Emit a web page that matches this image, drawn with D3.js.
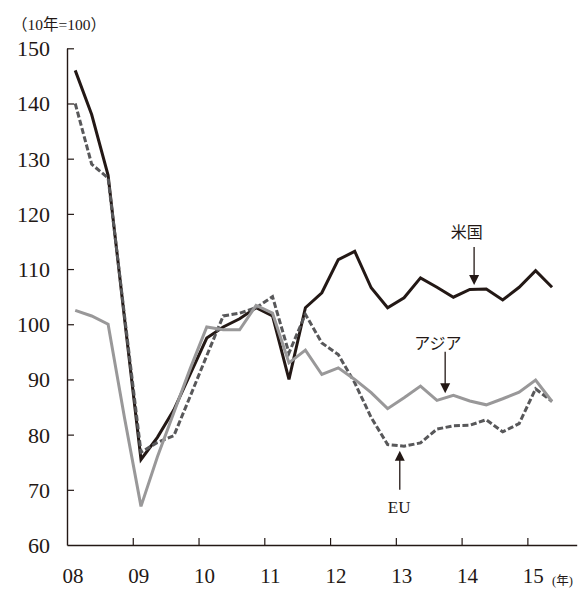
<!DOCTYPE html>
<html lang="ja">
<head>
    <meta charset="UTF-8">
    <title>Chart</title>
    <script src="https://d3js.org/d3.v7.min.js"></script>
    <style>
        body {
            margin: 0;
            background: #fff;
        }

        text {
            font-family: "Liberation Serif", "Noto Sans CJK JP", serif;
            fill: #231815;
        }

        .jp {
            font-family: "Noto Sans CJK JP", sans-serif;
        }
    </style>
</head>
<body>
<svg id="chart" width="584" height="589"></svg>

<script>
    // quarterly index, 2008Q1 .. 2015Q2 (2010 = 100)
    let quarters = d3.range(30).map(i => 2008 + 0.125 + i * 0.25);

    let usa = [146, 138, 127, 101, 75.5, 79.5, 84.5, 91, 97.5, 99.5,
        101, 103, 101.5, 90, 103, 105.7, 111.7, 113.2, 106.6, 103,
        104.8, 108.4, 106.7, 104.9, 106.3, 106.4, 104.4, 106.7, 109.7, 106.7];

    let asia = [102.5, 101.5, 100, 83, 67, 76, 84, 92, 99.5, 99,
        99, 103.4, 102, 93, 95.3, 90.9, 92.1, 90, 87.6, 84.7,
        86.7, 88.8, 86.2, 87.1, 86.1, 85.4, 86.5, 87.7, 89.9, 86];

    let eu = [140, 129, 126.5, 101.5, 76.8, 78.6, 79.8, 87, 94.3, 101.5,
        102, 103, 105, 94.8, 101.8, 96.6, 94.5, 89.4, 83.1, 78.2,
        77.9, 78.5, 81, 81.6, 81.7, 82.7, 80.5, 82, 88.3, 86];

    let yearTicks = [2008, 2009, 2010, 2011, 2012, 2013, 2014, 2015];
    let yearLabels = ["08", "09", "10", "11", "12", "13", "14", "15"];
    let valueTicks = [60, 70, 80, 90, 100, 110, 120, 130, 140, 150];

    // labels with arrows: [text, text x, text y, arrow x, arrow from, arrow to]
    let notes = [
        ["米国", 2014.08, 116.7, 2014.19, 114, 107.1],
        ["アジア", 2013.64, 96.6, 2013.75, 95, 87.5],
        ["EU", 2013.05, 66.9, 2013.06, 70, 77.1]
    ];

    let svg = d3.select("#chart");
    let ink = "#231815";

    let x = d3.scaleLinear().domain([2008, 2015.75]).range([67, 576.7]);
    let y = d3.scaleLinear().domain([60, 150]).range([545, 48.3]);

    // axes, ticks pointing inward
    let xAxis = d3.axisBottom(x).tickValues(yearTicks.slice(1)).tickSizeInner(-7).tickSizeOuter(0).tickFormat("");
    let gx = svg.append("g").attr("transform", "translate(0," + y(60) + ")").call(xAxis);
    gx.select(".domain").attr("stroke", ink).attr("stroke-width", 1.4);
    gx.selectAll(".tick line").attr("stroke", ink).attr("stroke-width", 1.2);

    let yAxis = d3.axisLeft(y).tickValues(valueTicks.slice(1)).tickSizeInner(-7).tickSizeOuter(0).tickFormat("");
    let gy = svg.append("g").attr("transform", "translate(" + x(2008) + ",0)").call(yAxis);
    gy.select(".domain").attr("stroke", ink).attr("stroke-width", 1.4);
    gy.selectAll(".tick line").attr("stroke", ink).attr("stroke-width", 1.2);

    svg.selectAll(".ylab").data(valueTicks).enter().append("text")
        .attr("class", "ylab")
        .attr("x", 50)
        .attr("y", d => y(d) + 8)
        .attr("text-anchor", "end")
        .style("font-size", "22px")
        .text(d => d);

    svg.selectAll(".xlab").data(yearTicks).enter().append("text")
        .attr("class", "xlab")
        .attr("x", d => x(d) + 6)
        .attr("y", 583)
        .attr("text-anchor", "middle")
        .style("font-size", "21px")
        .text((d, i) => yearLabels[i]);

    svg.append("text").attr("x", 12).attr("y", 30).style("font-size", "15.5px").text("（10年=100）");
    svg.append("text").attr("x", 552).attr("y", 585).style("font-size", "12.5px").text("(年)");

    let line = d3.line().x((d, i) => x(quarters[i])).y(d => y(d));

    svg.append("path").datum(usa).attr("d", line)
        .attr("fill", "none").attr("stroke", ink).attr("stroke-width", 3).attr("stroke-linejoin", "miter");
    svg.append("path").datum(eu).attr("d", line)
        .attr("fill", "none").attr("stroke", "#58585a").attr("stroke-width", 3).attr("stroke-dasharray", "6,2.5");
    svg.append("path").datum(asia).attr("d", line)
        .attr("fill", "none").attr("stroke", "#999899").attr("stroke-width", 3);

    // annotations
    notes.forEach(function (n) {
        svg.append("text")
            .attr("class", n[0] === "EU" ? "" : "jp")
            .attr("x", x(n[1]))
            .attr("y", y(n[2]))
            .attr("dy", "0.35em")
            .attr("text-anchor", "middle")
            .style("font-size", n[0] === "EU" ? "17px" : "16px")
            .text(n[0]);

        let ax = x(n[3]), y0 = y(n[4]), y1 = y(n[5]);
        let dir = y1 > y0 ? 1 : -1;
        svg.append("line")
            .attr("x1", ax).attr("x2", ax)
            .attr("y1", y0).attr("y2", y1 - dir * 8)
            .attr("stroke", ink).attr("stroke-width", 1.3);
        svg.append("path")
            .attr("d", "M" + (ax - 5) + "," + (y1 - dir * 10) + "L" + (ax + 5) + "," + (y1 - dir * 10) + "L" + ax + "," + y1 + "Z")
            .attr("fill", ink);
    });
</script>
</body>
</html>
